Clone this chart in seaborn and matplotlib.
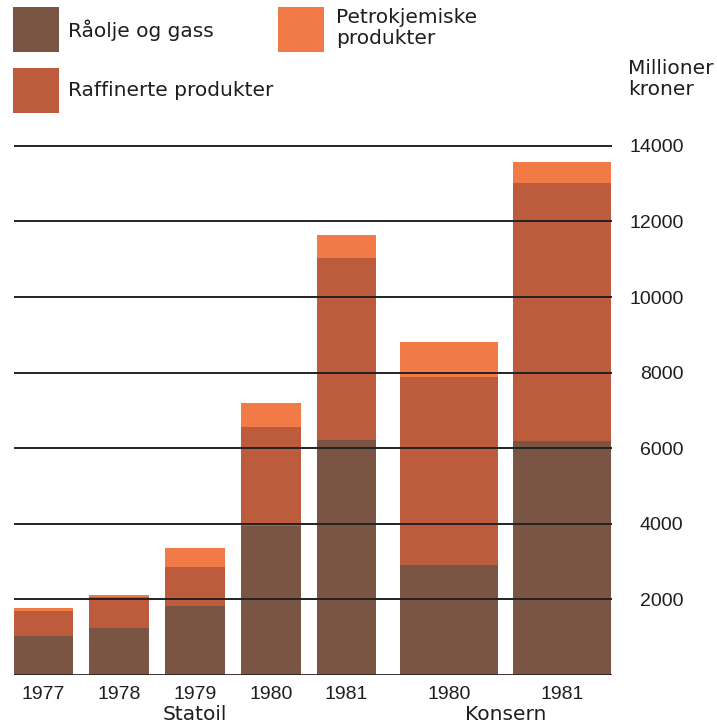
import numpy as np
import pandas as pd
import matplotlib.pyplot as plt
from matplotlib.patches import Rectangle
import seaborn as sns

# data (millioner kroner)
groups = ["Statoil"] * 5 + ["Konsern"] * 2
years = ["1977", "1978", "1979", "1980", "1981", "1980", "1981"]
raolje = [1030, 1250, 1830, 3955, 6225, 2915, 6180]
raffinert = [670, 820, 1040, 2595, 4815, 4970, 6830]
petrokjemisk = [60, 55, 500, 645, 590, 935, 575]
yticks = [2000, 4000, 6000, 8000, 10000, 12000, 14000]

brown_c = "#7b5544"
raff_c = "#bd5b3d"
petro_c = "#f27a47"
txt_c = "#1e1e1e"

sns.set_theme(style="white")
plt.rcParams["font.family"] = ["Liberation Sans", "DejaVu Sans"]
word_font = dict(family="DejaVu Sans", fontsize=14.5, color=txt_c)

W, H = 717, 726
def fx(px):
    return px / W
def fy(py):
    return 1 - py / H

df = pd.DataFrame({"gruppe": groups, "aar": years, "raolje": raolje,
                   "raffinert": raffinert, "petro": petrokjemisk})
df["x"] = [0, 1, 2, 3, 4, 5.35, 6.85]
df["raff_top"] = df["raolje"] + df["raffinert"]
df["total"] = df["raff_top"] + df["petro"]

fig = plt.figure(figsize=(W / 100, H / 100), dpi=100)
ax = fig.add_axes([fx(14), fy(675), (612 - 14) / W, 544.3 / H])

# stacked bars drawn as overlapping cumulative totals
for col, color in [("total", petro_c), ("raff_top", raff_c), ("raolje", brown_c)]:
    for grp, w in [("Statoil", 0.79), ("Konsern", 0.863)]:
        sub = df[df["gruppe"] == grp]
        sns.barplot(data=sub, x="x", y=col, native_scale=True, width=w,
                    color=color, saturation=1, errorbar=None, ax=ax,
                    linewidth=0, zorder=1)

ax.set_xlim(-0.389, 7.505)
ax.set_ylim(0, 14400)
for s in ax.spines.values():
    s.set_visible(False)
ax.set_xlabel("")
ax.set_ylabel("")

for t in yticks:
    ax.axhline(t, color="#222222", lw=1.4, zorder=3)
ax.axhline(0, color="#2a2220", lw=2, zorder=3)

ax.set_xticks(df["x"])
ax.set_xticklabels(years)
ax.tick_params(axis="x", length=0, pad=8, labelsize=14, colors=txt_c)

ax.yaxis.tick_right()
ax.set_yticks(yticks)
ax.set_yticklabels([str(t) for t in yticks])
ax.tick_params(axis="y", length=0, pad=51.5, labelsize=14, colors=txt_c)
for lab in ax.get_yticklabels():
    lab.set_ha("right")

ax.annotate("Statoil", xy=(2, 0), xycoords="data", xytext=(0, -32.4),
            textcoords="offset points", ha="center", va="baseline", **word_font)
ax.annotate("Konsern", xy=(6.1, 0), xycoords="data", xytext=(0, -32.4),
            textcoords="offset points", ha="center", va="baseline", **word_font)

# legend boxes
for (x0, y0, c) in [(13, 7, brown_c), (13, 68, raff_c), (278, 7, petro_c)]:
    fig.patches.append(Rectangle((fx(x0), fy(y0 + 45)), 46 / W, 45 / H,
                                 transform=fig.transFigure, color=c, lw=0))
fig.text(fx(68), fy(30), "Råolje og gass", va="center", **word_font)
fig.text(fx(68), fy(90), "Raffinerte produkter", va="center", **word_font)
fig.text(fx(336), fy(28), "Petrokjemiske\nprodukter", va="center",
         linespacing=1.15, **word_font)
fig.text(fx(628), fy(79), "Millioner\nkroner", va="center",
         linespacing=1.15, **word_font)

fig.savefig("out.png", dpi=100)
